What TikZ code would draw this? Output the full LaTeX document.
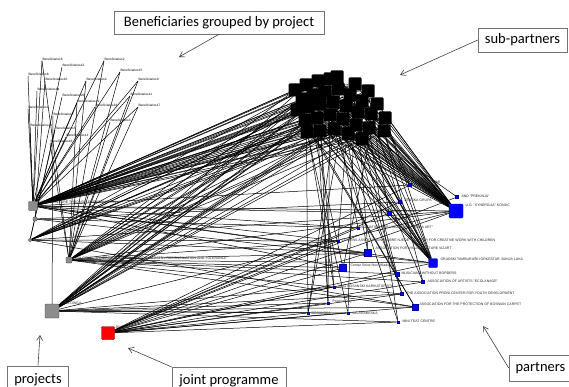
\documentclass[tikz,border=0pt]{standalone}
\usepackage{fontspec}
\newfontfamily\callfont{Carlito}
\newfontfamily\labfont{Liberation Sans}
\usetikzlibrary{backgrounds,arrows.meta}
\begin{document}
\begin{tikzpicture}[x=1pt,y=-1pt,
  subp/.style={fill=black,draw=none,minimum size=13pt,inner sep=0pt,rounded corners=1pt},
  projn/.style={fill=gray!90,draw=gray!50!black,line width=0.3pt,inner sep=0pt,rounded corners=0.8pt},
  partn/.style={fill=blue,draw=blue!60!black,line width=0.2pt,inner sep=0pt},
  jpn/.style={fill=red,draw=red!50!black,line width=0.4pt,inner sep=0pt,rounded corners=1pt},
  plab/.style={font=\labfont\fontsize{3.5}{4}\selectfont,inner sep=0.3pt,text=black!85,anchor=west},
  benlab/.style={font=\labfont\fontsize{3.2}{3.5}\selectfont,inner sep=0.3pt,text=black,anchor=south west},
  callout/.style={draw=black!55,line width=0.6pt,fill=white,font=\callfont\fontsize{14.5}{16}\selectfont,inner sep=0pt},
  edge/.style={line width=0.5pt,draw=black},
  pointer/.style={-{Straight Barb[length=5pt,width=6pt]},line width=0.6pt,draw=black!75}]
\useasboundingbox (0,0) rectangle (569,387);

% ---------- sub-partners (black cluster)
\foreach \n/\x/\y in {1/295/90,2/306/85,3/318/81,4/330/79,5/337/77,6/355/84,7/368/91,8/377/104,9/385/118,
  10/302/99,11/313/95,12/325/92,13/338/89,14/350/95,15/362/101,16/371/114,17/297/110,18/308/107,
  19/320/104,20/333/102,21/346/106,22/358/112,23/305/120,24/317/118,25/330/115,26/343/119,27/356/125,
  28/369/128,29/320/131,30/334/129,31/348/134,32/384/131,33/307/132,34/362/139}
  \node[subp] (s\n) at (\x,\y) {};

% ---------- projects
\node[projn,minimum size=9pt] (P1) at (33,206) {};
\node[projn,minimum size=4pt] (P1b) at (35,219) {};
\node[projn,minimum size=3pt] (g1) at (30,240) {};
\node[projn,minimum size=6pt] (P2) at (69,260) {};
\node[projn,minimum size=14pt] (P3) at (52,311) {};
\node[plab] (P1l) at (39,202) {MDG-F CULTURE THROUGH FRIENDSHIP RIN};
\node[plab] (P2l) at (74,258) {DIALOGUE - SYNERGY OF REVITALIZATION ARTISTRY RECONCILIATION AND TOLERANCE};
\node[plab] (P3l) at (60,303) {CIRM OWGA};

% ---------- joint programme
\node[jpn,minimum size=13pt] (JP) at (108,333) {};
\node[plab] (JPl) at (115,327) {JP};

% ---------- partners
\node[partn,minimum size=14pt,rounded corners=1pt] (B1) at (456,211) {};
\node[partn,minimum size=9pt,rounded corners=0.8pt] (B2) at (433,263) {};
\node[partn,minimum size=3pt] (pA) at (410,185) {};
\node[partn,minimum size=3pt] (pB) at (457,197) {};
\node[partn,minimum size=3pt] (pC) at (400,202) {};
\node[partn,minimum size=4pt] (pD) at (389,213) {};
\node[partn,minimum size=2pt] (pE) at (358,228) {};
\node[partn,minimum size=2pt] (pF) at (338,241) {};
\node[partn,minimum size=7pt] (pG) at (368,253) {};
\node[partn,minimum size=7pt] (pH) at (343,268) {};
\node[partn,minimum size=4pt] (pI) at (397,274) {};
\node[partn,minimum size=3pt] (pJ) at (423,282) {};
\node[partn,minimum size=2.5pt] (pK) at (334,287) {};
\node[partn,minimum size=3pt] (pL) at (402,294) {};
\node[partn,minimum size=2.5pt] (pM) at (328,303) {};
\node[partn,minimum size=6pt] (pN) at (415,307) {};
\node[partn,minimum size=2.5pt] (pO) at (308,313) {};
\node[partn,minimum size=2.5pt] (pP) at (348,313) {};
\node[partn,minimum size=2.5pt] (pQ) at (398,322) {};

\node[plab] at (414,182) {NARAT TSATAR};
\node[plab] at (461,196) {AND "PREKINJA"};
\node[plab] at (465,205) {U.G. "SYNERGIJA" KONJIC};
\node[plab] at (404,200) {ZENSKA GRUPA};
\node[plab] at (393,212) {Atelje za djecu};
\node[plab] at (356,227) {ASSOCIATION FOR VISUAL ART "TERRA ART"};
\node[plab] at (341,240) {CITIZENS ASSOCIATION "DOBRE NJEDE" - CENTER FOR CREATIVE WORK WITH CHILDREN};
\node[plab] at (375,248) {ASSOCIATION FOR VISUAL CULTURE VIZART};
\node[plab] at (440,259) {GRADSKI TAMBURAŠKI ORKESTAR, BANJA LUKA};
\node[plab] at (350,265) {Centar Sirius Novi Mladost};
\node[plab] at (401,273) {MUSICIANS WITHOUT BORDERS};
\node[plab] at (427,281) {ASSOCIATION OF ARTISTS "ECOLANAGE"};
\node[plab] at (338,286) {UNG BOSANSKI KARIKATURISTI};
\node[plab] at (406,293) {THE ASSOCIATION PRONI CENTER FOR YOUTH DEVELOPMENT};
\node[plab] at (332,302) {Positive Day};
\node[plab] at (419,304) {ASSOCIATION FOR THE PROTECTION OF BOSNIAN CARPET};
\node[plab] at (311,313) {BOSANSKA};
\node[plab] at (352,313) {UG ARABESKA};
\node[plab] at (402,321) {MINI TEAT CENTRE};

% ---------- beneficiaries
\foreach \n/\x/\y in {6/42/61,2/104/61,12/62/67,15/120/72,8/28/76,10/45/81,4/86/81,9/138/81,14/37/91,
  11/130/96,20/62/97,19/77/103,18/95/107,17/138/107,1/28/109,7/53/116,3/110/122,21/30/127,5/55/130,
  13/66/137,16/50/143}
  \node[benlab] (bn\n) at (\x,\y) {Beneficiaries\n};

% ---------- connectors
\begin{pgfonlayer}{background}
\foreach \n/\t in {6/P1,2/P2,12/P1,15/P2,8/P1,10/P1b,4/P2,9/P2,14/P1,11/P2,20/g1,19/P2,18/P1,17/P2,
  1/P1,7/P3,3/P2,21/P1,5/g1,13/P1,16/P2}
  \draw[edge] (bn\n.south west) -- (\t);
\foreach \n/\t in {6/P2,2/P1,15/P1,9/P1,11/P1,17/P1,4/P1,19/P1}
  \draw[edge] (bn\n.south west) -- (\t);
\foreach \i in {1,...,34} {
  \draw[edge] (s\i) -- (B1);
  \draw[edge] (s\i) -- (P1);
}
\foreach \i in {1,3,...,33} \draw[edge] (s\i) -- (B2);
\foreach \i in {2,4,...,34} \draw[edge] (s\i) -- (P3);
\foreach \i in {1,4,...,34} \draw[edge] (s\i) -- (P2);
\foreach \i in {3,6,...,33} \draw[edge] (s\i) -- (g1);
\foreach \i in {1,...,29} {
  \pgfmathtruncatemacro\j{\i+5}
  \draw[edge] (s\i) -- (s\j);
}
\foreach \a/\t in {5/pA,9/pA,12/pC,7/pD,20/pE,14/pF,22/pG,18/pH,25/pI,27/pJ,29/pK,31/pL,19/pM,23/pN,
  26/pO,33/pP,28/pQ,11/pB,16/pC,30/pO,24/pM,10/pK,8/pH,13/pG,17/pN,21/pL,32/pJ,34/pI,3/pQ,6/pP,2/pO,4/pM}
  \draw[edge] (s\a) -- (\t);
\foreach \t in {B1,B2,pA,pB,pC,pD,pE,pF,pG,pH,pI,pJ,pK,pL,pM,pN,pO,pP,pQ}
  \draw[edge] (JP) -- (\t);
\foreach \t in {B1,pA,pF,pG,B2,pH,pE,pD}
  \draw[edge] (P1) -- (\t);
\foreach \t in {pG,B2,pH,pI,pJ,pL,pN,pF,B1}
  \draw[edge] (P2) -- (\t);
\foreach \t in {pK,pM,pO,pP,pQ,pN,pL,B1}
  \draw[edge] (P3) -- (\t);
\foreach \t in {B1,pG,pF,pN}
  \draw[edge] (g1) -- (\t);
\foreach \t in {pE,B2,pC}
  \draw[edge] (P1b) -- (\t);
\end{pgfonlayer}

% ---------- callouts
\node[callout,minimum width=210pt,minimum height=23pt] (benc) at (219,22.5) {Beneficiaries grouped by project};
\coordinate (bentip) at (179,57);
\draw[pointer] (benc.south) -- (bentip);
\node[callout,minimum width=89pt,minimum height=24pt] (subc) at (522.5,40) {sub-partners};
\coordinate (subtip) at (400,75);
\draw[pointer] (subc.west) -- (subtip);
\node[callout,anchor=north,minimum width=61pt,minimum height=27pt] (projc) at (38,365.5) {projects};
\coordinate (projtip) at (40,335);
\draw[pointer] (projc.north) -- (projtip);
\node[callout,anchor=north,minimum width=114pt,minimum height=27pt] (jpc) at (229,367) {joint programme};
\coordinate (jptip) at (128,348);
\draw[pointer] (jpc.north west) -- (jptip);
\node[callout,minimum width=63pt,minimum height=26pt] (partc) at (540.5,368) {partners};
\coordinate (parttip) at (483,326);
\draw[pointer] (partc.west) -- (parttip);
\end{tikzpicture}
\end{document}
